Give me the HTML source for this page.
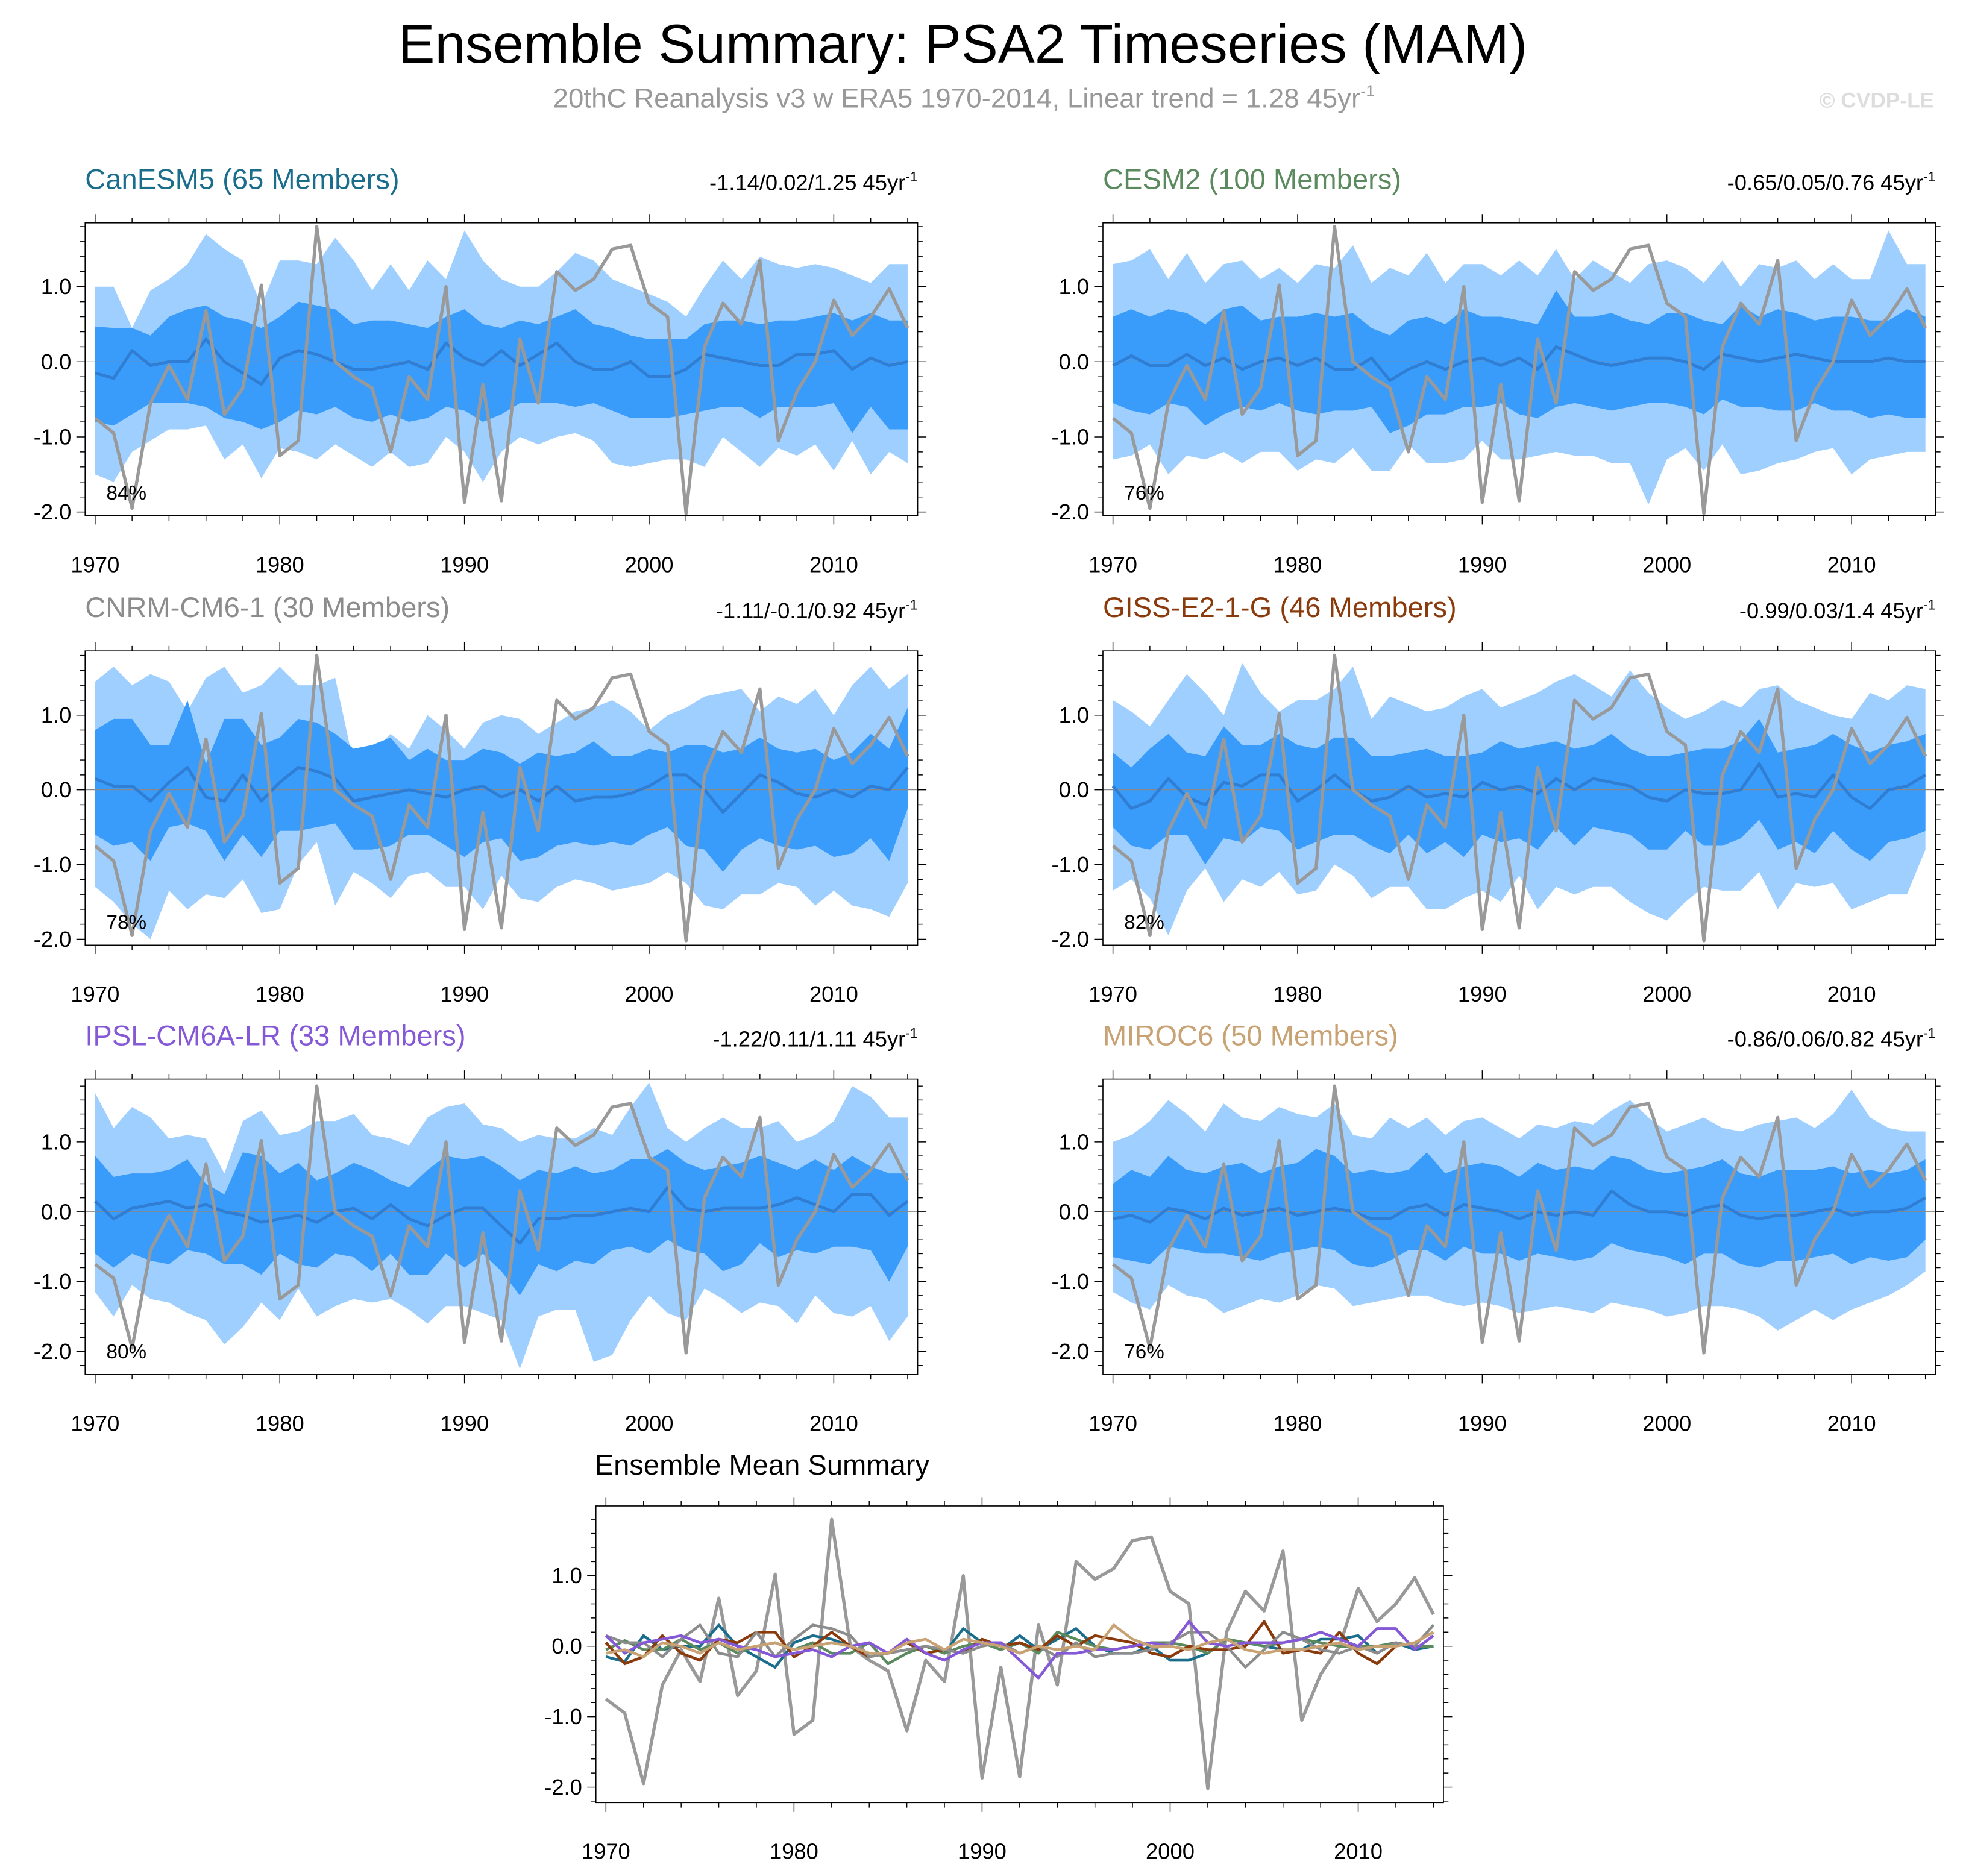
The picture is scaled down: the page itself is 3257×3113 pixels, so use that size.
<!DOCTYPE html>
<html><head><meta charset="utf-8"><style>
html,body{margin:0;padding:0;background:#fff;}
svg{display:block;font-family:"Liberation Sans",Arial,sans-serif;}
</style></head><body>
<svg id="chart" width="3257" height="3113" viewBox="0 0 1568 1498.6" preserveAspectRatio="none" xmlns="http://www.w3.org/2000/svg">
<text x="769" y="50" font-size="44" text-anchor="middle" fill="#000">Ensemble Summary: PSA2 Timeseries (MAM)</text>
<text x="770" y="86" font-size="22" text-anchor="middle" fill="#999">20thC Reanalysis v3 w ERA5 1970-2014, Linear trend = 1.28 45yr<tspan dy="-9" font-size="13">-1</tspan></text>
<text x="1545" y="86" font-size="17" font-weight="bold" text-anchor="end" fill="#ddd">© CVDP-LE</text>
<g id="plots"></g>
</svg>
<script>
const years = []; for (let y=1970;y<=2014;y++) years.push(y);
const obs = [-0.75,-0.95,-1.95,-0.55,-0.05,-0.5,0.68,-0.7,-0.35,1.02,-1.25,-1.05,1.8,0.0,-0.2,-0.35,-1.2,-0.2,-0.5,1.0,-1.87,-0.3,-1.85,0.3,-0.55,1.2,0.95,1.1,1.5,1.55,0.78,0.6,-2.02,0.2,0.78,0.5,1.35,-1.05,-0.4,0.0,0.82,0.35,0.6,0.97,0.45];

const m1Mean=[-0.15,-0.22,0.15,-0.05,0.0,0.0,0.3,0.0,-0.15,-0.3,0.05,0.15,0.1,0.0,-0.1,-0.1,-0.05,0.0,-0.1,0.25,0.05,-0.05,0.15,-0.05,0.1,0.25,0.0,-0.1,-0.1,0.0,-0.2,-0.2,-0.1,0.1,0.05,0.0,-0.05,-0.05,0.1,0.1,0.15,-0.1,0.05,-0.05,0.0];
const m1InHi=[0.47,0.45,0.45,0.35,0.6,0.7,0.75,0.6,0.55,0.45,0.6,0.8,0.75,0.7,0.5,0.55,0.55,0.5,0.45,0.6,0.7,0.5,0.45,0.55,0.5,0.6,0.7,0.5,0.45,0.35,0.3,0.3,0.3,0.5,0.55,0.55,0.5,0.55,0.55,0.6,0.65,0.55,0.65,0.55,0.55];
const m1InLo=[-0.8,-0.85,-0.7,-0.55,-0.55,-0.55,-0.6,-0.75,-0.8,-0.9,-0.8,-0.65,-0.7,-0.6,-0.75,-0.8,-0.7,-0.8,-0.75,-0.6,-0.65,-0.8,-0.7,-0.55,-0.55,-0.55,-0.6,-0.55,-0.65,-0.75,-0.75,-0.75,-0.7,-0.65,-0.6,-0.6,-0.75,-0.6,-0.6,-0.6,-0.55,-0.95,-0.6,-0.9,-0.9];
const m1OutHi=[1.0,1.0,0.45,0.95,1.1,1.3,1.7,1.5,1.35,0.75,1.35,1.35,1.3,1.65,1.35,0.95,1.3,0.95,1.35,1.1,1.75,1.35,1.1,1.0,1.0,1.2,1.45,1.35,1.1,1.0,0.9,0.8,0.6,1.0,1.35,1.1,1.4,1.3,1.25,1.3,1.25,1.15,1.05,1.3,1.3];
const m1OutLo=[-1.5,-1.6,-1.2,-1.05,-0.9,-0.9,-0.85,-1.3,-1.1,-1.55,-1.15,-1.2,-1.3,-1.1,-1.25,-1.4,-1.2,-1.4,-1.35,-1.0,-1.2,-1.6,-1.2,-1.0,-1.1,-1.0,-0.95,-1.05,-1.35,-1.4,-1.35,-1.3,-1.3,-1.4,-1.0,-1.2,-1.4,-1.15,-1.25,-1.1,-1.45,-1.05,-1.5,-1.2,-1.35];

const m2Mean=[-0.05,0.08,-0.05,-0.05,0.1,-0.05,0.05,-0.1,0.0,0.05,-0.05,0.05,-0.1,-0.1,0.05,-0.25,-0.1,0.0,-0.1,0.0,0.05,-0.05,0.05,-0.1,0.2,0.1,0.0,-0.05,0.0,0.05,0.05,0.0,-0.1,0.1,0.05,0.0,0.05,0.1,0.05,0.0,0.0,0.0,0.05,0.0,0.0];
const m2InHi=[0.6,0.7,0.6,0.7,0.65,0.5,0.7,0.75,0.55,0.6,0.6,0.65,0.6,0.65,0.45,0.35,0.55,0.6,0.5,0.7,0.6,0.6,0.55,0.5,0.95,0.6,0.6,0.65,0.55,0.5,0.65,0.65,0.55,0.5,0.75,0.6,0.7,0.65,0.55,0.6,0.6,0.55,0.55,0.7,0.6];
const m2InLo=[-0.55,-0.65,-0.7,-0.55,-0.6,-0.85,-0.7,-0.6,-0.65,-0.55,-0.65,-0.7,-0.65,-0.65,-0.6,-0.95,-0.85,-0.7,-0.7,-0.6,-0.6,-0.55,-0.7,-0.75,-0.6,-0.55,-0.6,-0.65,-0.6,-0.55,-0.55,-0.6,-0.7,-0.5,-0.6,-0.6,-0.65,-0.65,-0.55,-0.65,-0.65,-0.75,-0.7,-0.75,-0.75];
const m2OutHi=[1.3,1.35,1.5,1.1,1.45,1.05,1.3,1.35,1.1,1.25,1.05,1.3,1.25,1.55,1.05,1.25,1.15,1.45,1.05,1.3,1.3,1.15,1.35,1.15,1.5,1.1,1.35,1.2,1.05,1.3,1.35,1.25,1.05,1.35,1.0,1.3,1.25,1.35,1.1,1.3,1.1,1.1,1.75,1.3,1.3];
const m2OutLo=[-1.3,-1.25,-1.1,-1.5,-1.25,-1.3,-1.2,-1.35,-1.2,-1.2,-1.45,-1.3,-1.35,-1.15,-1.45,-1.45,-1.1,-1.35,-1.35,-1.3,-1.05,-1.3,-1.3,-1.25,-1.2,-1.25,-1.25,-1.35,-1.35,-1.9,-1.3,-1.15,-1.45,-1.1,-1.5,-1.45,-1.35,-1.3,-1.2,-1.15,-1.5,-1.3,-1.25,-1.2,-1.2];

const m3Mean=[0.15,0.05,0.05,-0.15,0.1,0.3,-0.1,-0.15,0.2,-0.15,0.1,0.3,0.25,0.15,-0.15,-0.1,-0.05,0.0,-0.05,-0.1,0.0,0.05,-0.1,0.0,-0.15,0.05,-0.15,-0.1,-0.1,-0.05,0.05,0.2,0.2,0.0,-0.3,-0.05,0.2,0.1,-0.05,-0.1,0.0,-0.1,0.05,0.0,0.3];
const m3InHi=[0.8,0.95,0.95,0.6,0.6,1.2,0.35,0.95,0.95,0.6,0.7,0.95,0.9,0.75,0.55,0.6,0.7,0.4,0.55,0.4,0.4,0.55,0.5,0.35,0.5,0.45,0.5,0.65,0.45,0.45,0.55,0.5,0.6,0.6,0.5,0.55,0.7,0.55,0.5,0.55,0.4,0.5,0.75,0.55,1.1];
const m3InLo=[-0.6,-0.75,-0.7,-0.95,-0.5,-0.45,-0.55,-0.95,-0.6,-0.9,-0.55,-0.55,-0.5,-0.45,-0.8,-0.8,-0.75,-0.6,-0.6,-0.75,-0.9,-0.7,-0.65,-0.95,-0.9,-0.75,-0.7,-0.75,-0.7,-0.75,-0.6,-0.5,-0.75,-0.8,-1.1,-0.8,-0.65,-0.75,-0.8,-0.75,-0.9,-0.85,-0.65,-0.95,-0.25];
const m3OutHi=[1.45,1.65,1.4,1.55,1.45,1.05,1.5,1.65,1.3,1.4,1.65,1.4,1.4,1.5,0.35,0.5,0.75,0.55,1.0,0.8,0.55,0.9,1.0,0.95,0.75,0.9,1.05,1.1,1.2,1.05,0.8,1.0,1.1,1.25,1.3,1.35,1.05,1.25,1.15,1.35,1.0,1.4,1.65,1.35,1.55];
const m3OutLo=[-1.3,-1.5,-1.8,-2.0,-1.35,-1.6,-1.4,-1.45,-1.2,-1.65,-1.6,-1.0,-0.7,-1.55,-1.1,-1.25,-1.45,-1.15,-1.1,-1.3,-1.3,-1.6,-1.15,-1.45,-1.5,-1.3,-1.2,-1.25,-1.35,-1.3,-1.25,-1.1,-1.25,-1.55,-1.6,-1.4,-1.4,-1.25,-1.3,-1.55,-1.35,-1.55,-1.6,-1.7,-1.25];

const m4Mean=[0.05,-0.25,-0.15,0.15,-0.1,-0.2,0.1,0.05,0.2,0.2,-0.15,0.0,0.2,0.0,-0.15,-0.1,0.05,-0.1,-0.05,-0.1,0.1,0.0,0.05,-0.05,0.15,0.0,0.15,0.1,0.05,-0.1,-0.15,0.0,-0.05,-0.05,0.0,0.35,-0.1,-0.05,-0.1,0.2,-0.1,-0.25,0.0,0.05,0.2];
const m4InHi=[0.5,0.3,0.55,0.75,0.5,0.45,0.85,0.6,0.6,0.75,0.6,0.55,0.7,0.7,0.45,0.45,0.5,0.55,0.45,0.45,0.5,0.65,0.55,0.6,0.65,0.55,0.6,0.75,0.55,0.45,0.45,0.5,0.55,0.55,0.65,0.95,0.5,0.55,0.6,0.75,0.6,0.5,0.6,0.65,0.75];
const m4InLo=[-0.5,-0.75,-0.8,-0.6,-0.6,-1.0,-0.65,-0.7,-0.5,-0.55,-0.8,-0.7,-0.6,-0.6,-0.75,-0.85,-0.6,-0.85,-0.7,-0.9,-0.6,-0.7,-0.65,-0.8,-0.5,-0.75,-0.5,-0.55,-0.6,-0.8,-0.8,-0.55,-0.75,-0.75,-0.65,-0.4,-0.8,-0.7,-0.85,-0.55,-0.8,-0.95,-0.7,-0.65,-0.55];
const m4OutHi=[1.2,1.05,0.85,1.2,1.55,1.3,1.0,1.7,1.3,1.05,1.2,1.2,1.35,1.65,0.95,1.25,1.15,1.05,1.1,1.25,1.35,1.1,1.2,1.3,1.45,1.55,1.4,1.25,1.6,1.3,1.1,0.95,1.05,1.2,1.1,1.35,1.4,1.2,1.1,1.0,0.95,1.3,1.2,1.4,1.35];
const m4OutLo=[-1.35,-1.2,-1.45,-1.95,-1.35,-1.05,-1.5,-1.2,-1.3,-1.1,-1.4,-1.35,-1.0,-1.15,-1.45,-1.3,-1.3,-1.6,-1.6,-1.45,-1.35,-1.5,-1.15,-1.6,-1.3,-1.4,-1.3,-1.3,-1.5,-1.65,-1.75,-1.5,-1.3,-1.35,-1.35,-1.1,-1.6,-1.25,-1.3,-1.25,-1.6,-1.5,-1.4,-1.4,-0.8];

const m5Mean=[0.15,-0.1,0.05,0.1,0.15,0.05,0.1,0.0,-0.05,-0.15,-0.1,-0.05,-0.15,0.0,0.05,-0.1,0.1,-0.1,-0.2,-0.05,0.05,0.05,-0.2,-0.45,-0.1,-0.1,-0.05,-0.05,0.0,0.05,0.0,0.35,0.05,0.0,0.05,0.05,0.05,0.1,0.2,0.1,0.0,0.25,0.25,-0.05,0.15];
const m5InHi=[0.8,0.5,0.55,0.55,0.6,0.75,0.4,0.25,0.85,0.8,0.55,0.7,0.45,0.55,0.7,0.6,0.45,0.35,0.6,0.8,0.75,0.8,0.65,0.45,0.6,0.55,0.65,0.55,0.6,0.75,0.75,0.9,0.7,0.6,0.65,0.7,0.8,0.7,0.6,0.75,0.6,0.8,0.65,0.55,0.55];
const m5InLo=[-0.6,-0.8,-0.6,-0.7,-0.75,-0.55,-0.6,-0.75,-0.75,-0.9,-0.6,-0.75,-0.8,-0.6,-0.65,-0.85,-0.6,-0.9,-0.9,-0.6,-0.8,-0.6,-0.85,-1.2,-0.75,-0.85,-0.7,-0.75,-0.55,-0.5,-0.6,-0.4,-0.55,-0.6,-0.85,-0.75,-0.45,-0.65,-0.55,-0.6,-0.5,-0.5,-0.55,-1.0,-0.5];
const m5OutHi=[1.7,1.2,1.5,1.35,1.05,1.1,1.05,0.55,1.3,1.45,1.1,1.15,1.3,1.3,1.4,1.1,1.05,0.95,1.35,1.5,1.55,1.25,1.2,1.0,1.1,1.05,1.05,1.2,1.1,1.5,1.85,1.2,1.0,1.2,1.35,1.2,1.2,1.3,1.0,1.1,1.3,1.8,1.65,1.35,1.35];
const m5OutLo=[-1.15,-1.5,-1.05,-1.25,-1.3,-1.45,-1.55,-1.9,-1.65,-1.3,-1.55,-1.1,-1.5,-1.35,-1.25,-1.3,-1.25,-1.4,-1.6,-1.35,-1.35,-1.45,-1.55,-2.25,-1.5,-1.4,-1.4,-2.15,-2.05,-1.55,-1.2,-1.45,-1.55,-1.1,-1.25,-1.45,-1.3,-1.35,-1.6,-1.2,-1.45,-1.5,-1.35,-1.85,-1.5];

const m6Mean=[-0.1,-0.05,-0.15,0.05,0.0,-0.1,0.05,-0.05,0.0,0.05,-0.05,0.0,0.05,0.0,-0.1,-0.1,0.05,0.1,-0.05,0.1,0.05,0.0,-0.1,0.0,-0.05,0.0,-0.05,0.3,0.1,0.0,0.0,-0.05,0.05,0.1,-0.05,-0.1,-0.05,-0.05,0.0,0.05,-0.05,0.0,0.0,0.05,0.2];
const m6InHi=[0.4,0.6,0.5,0.8,0.6,0.55,0.65,0.7,0.55,0.65,0.7,0.9,0.8,0.55,0.6,0.55,0.6,0.85,0.55,0.65,0.7,0.65,0.5,0.7,0.6,0.65,0.6,0.8,0.75,0.6,0.55,0.6,0.65,0.75,0.55,0.5,0.6,0.6,0.6,0.65,0.55,0.6,0.55,0.6,0.75];
const m6InLo=[-0.65,-0.7,-0.75,-0.5,-0.55,-0.6,-0.6,-0.65,-0.7,-0.6,-0.55,-0.5,-0.55,-0.75,-0.8,-0.7,-0.55,-0.55,-0.7,-0.5,-0.6,-0.6,-0.7,-0.6,-0.65,-0.7,-0.65,-0.45,-0.55,-0.6,-0.65,-0.75,-0.6,-0.6,-0.75,-0.8,-0.7,-0.7,-0.65,-0.6,-0.75,-0.65,-0.7,-0.65,-0.4];
const m6OutHi=[1.0,1.1,1.3,1.6,1.4,1.15,1.55,1.35,1.3,1.5,1.4,1.35,1.55,1.1,1.05,1.35,1.2,1.35,1.1,1.3,1.35,1.2,1.05,1.25,1.2,1.3,1.25,1.45,1.6,1.35,1.15,1.25,1.35,1.2,1.15,1.25,1.3,1.35,1.2,1.4,1.75,1.35,1.2,1.15,1.15];
const m6OutLo=[-1.15,-1.3,-1.4,-1.05,-1.2,-1.25,-1.45,-1.35,-1.25,-1.3,-1.2,-1.05,-1.1,-1.35,-1.3,-1.25,-1.2,-1.2,-1.3,-1.35,-1.3,-1.35,-1.45,-1.4,-1.35,-1.4,-1.45,-1.3,-1.35,-1.4,-1.5,-1.45,-1.35,-1.35,-1.4,-1.5,-1.7,-1.55,-1.4,-1.55,-1.4,-1.3,-1.2,-1.05,-0.85];

const modelNames=["CanESM5 (65 Members)","CESM2 (100 Members)","CNRM-CM6-1 (30 Members)","GISS-E2-1-G (46 Members)","IPSL-CM6A-LR (33 Members)","MIROC6 (50 Members)"];
const modelColors=["#1a6e8c","#5b8a5f","#8c8c8c","#8b3a0c","#8458d6","#c9a274"];
const trendLabels=["-1.14/0.02/1.25","-0.65/0.05/0.76","-1.11/-0.1/0.92","-0.99/0.03/1.4","-1.22/0.11/1.11","-0.86/0.06/0.82"];
const pctLabels=["84%","76%","78%","82%","80%","76%"];
const yTickVals=[1.0,0.0,-1.0,-2.0];
const yTickLabels=["1.0","0.0","-1.0","-2.0"];
const xTickVals=[1970,1980,1990,2000,2010];
const means=[m1Mean,m2Mean,m3Mean,m4Mean,m5Mean,m6Mean];
const inHi=[m1InHi,m2InHi,m3InHi,m4InHi,m5InHi,m6InHi];
const inLo=[m1InLo,m2InLo,m3InLo,m4InLo,m5InLo,m6InLo];
const outHi=[m1OutHi,m2OutHi,m3OutHi,m4OutHi,m5OutHi,m6OutHi];
const outLo=[m1OutLo,m2OutLo,m3OutLo,m4OutLo,m5OutLo,m6OutLo];

const NS="http://www.w3.org/2000/svg";
const root=document.getElementById('plots');
function mk(tag,attrs,parent){const e=document.createElementNS(NS,tag);for(const k in attrs)e.setAttribute(k,attrs[k]);(parent||root).appendChild(e);return e;}

const layouts=[
 [68,733,178,412,1.85,-2.05],[881,1546,178,412,1.85,-2.05],
 [68,733,520,755,1.86,-2.08],[881,1546,520,755,1.86,-2.08],
 [68,733,862,1098,1.9,-2.33],[881,1546,862,1098,1.9,-2.33]];

function axes(g,L,pad){
  const [x0,x1,y0,y1,yt,yb]=L;
  const xs=v=>x0+pad+(v-1970)/(2014-1970)*(x1-x0-2*pad);
  const ys=v=>y0+(yt-v)/(yt-yb)*(y1-y0);
  return {xs,ys};
}
function frame(g,L,sc){
  const [x0,x1,y0,y1,yt,yb]=L;
  const {xs,ys}=sc;
  const fr=mk('rect',{x:x0,y:y0,width:x1-x0,height:y1-y0,fill:'none',stroke:'#000','stroke-width':0.8},g);
  
  
  let d='';
  for(let v=-2.2;v<=1.9;v+=0.2){const vv=Math.round(v*10)/10;if(vv>yt||vv<yb)continue;const y=ys(vv);const major=Math.abs(vv-Math.round(vv))<1e-6;const l=major?7:4;d+=`M${x0},${y}h${-l}M${x1},${y}h${l}`;}
  for(let yr=1970;yr<=2014;yr++){const x=xs(yr);const major=yr%10===0;const l=major?7:4;if(major||yr%2===0)d+=`M${x},${y1}v${l}M${x},${y0}v${-l}`;}
  const tk=mk('path',{d:d,stroke:'#000','stroke-width':0.7,fill:'none'},g);
  
  
  yTickVals.forEach((v,i)=>{const t=mk('text',{x:x0-11,y:ys(v)+6,'font-size':17.5,'text-anchor':'end'},g);t.textContent=yTickLabels[i];
    
    });
  xTickVals.forEach(v=>{const t=mk('text',{x:xs(v),y:y1+45,'font-size':17.5,'text-anchor':'middle'},g);t.textContent=String(v);
    
    });
}
function line(g,arr,sc,color,w){
  const d=arr.map((v,i)=>(i?'L':'M')+sc.xs(years[i]).toFixed(2)+','+sc.ys(v).toFixed(2)).join('');
  return mk('path',{d:d,fill:'none',stroke:color,'stroke-width':w,'stroke-linejoin':'round'},g);
}
function band(g,hi,lo,sc,color){
  let d=hi.map((v,i)=>(i?'L':'M')+sc.xs(years[i]).toFixed(2)+','+sc.ys(v).toFixed(2)).join('');
  for(let i=lo.length-1;i>=0;i--)d+='L'+sc.xs(years[i]).toFixed(2)+','+sc.ys(lo[i]).toFixed(2);
  return mk('path',{d:d+'Z',fill:color,stroke:'none'},g);
}

for(let p=0;p<6;p++){
  const L=layouts[p];
  const g=mk('g',{});
  
  
  const sc=axes(g,L,8);
  const ob=band(g,outHi[p],outLo[p],sc,'#9fcfff');
  
  
  const ib=band(g,inHi[p],inLo[p],sc,'#3a9cfa');
  
  
  const z=mk('line',{x1:L[0],x2:L[1],y1:sc.ys(0),y2:sc.ys(0),stroke:'#888','stroke-width':0.6},g);
  
  
  const ml=line(g,means[p],sc,'#2f7ed4',2.4);
  
  
  const ol=line(g,obs,sc,'#999999',2.6);
  
  
  frame(g,L,sc);
  const t=mk('text',{x:L[0],y:L[2]-27,'font-size':22.7,fill:modelColors[p]},g);t.textContent=modelNames[p];
  
  
  const tr=mk('text',{x:L[1],y:L[2]-26,'font-size':17.5,'text-anchor':'end'},g);
  tr.innerHTML=trendLabels[p]+' 45yr<tspan dy="-7" font-size="11">-1</tspan>';
  
  
  const pc=mk('text',{x:L[0]+17,y:L[3]-13,'font-size':16},g);pc.textContent=pctLabels[p];
  
  
}
{
  const L=[476,1153,1203,1440,1.99,-2.22];
  const g=mk('g',{});
  
  
  const sc=axes(g,L,8);
  const order=[0,1,3,2,4,5];
  const ol=line(g,obs,sc,'#999999',2.6);
  
  
  order.forEach(p=>{const l=line(g,means[p],sc,modelColors[p],2.2);
    
    });
  frame(g,L,sc);
  const t=mk('text',{x:475,y:1178,'font-size':22.7},g);t.textContent='Ensemble Mean Summary';
  
  
}
</script>
</body></html>
